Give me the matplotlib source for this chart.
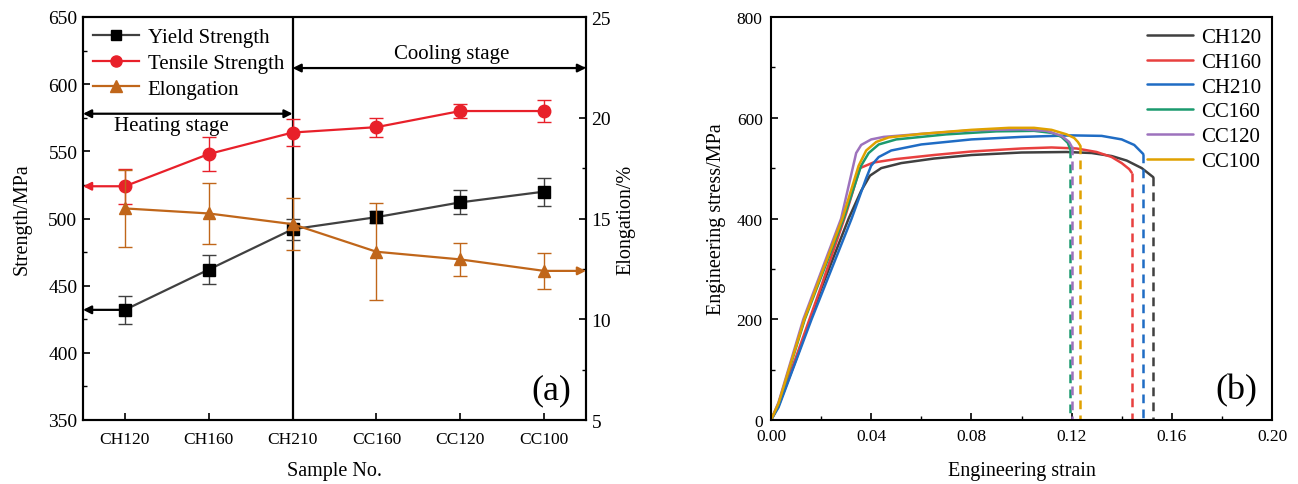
import matplotlib
matplotlib.use("Agg")
import matplotlib.pyplot as plt
from matplotlib.ticker import MultipleLocator
from matplotlib.lines import Line2D

plt.rcParams['font.family'] = ['Liberation Serif', 'DejaVu Serif']
plt.rcParams['mathtext.fontset'] = 'stix'

# ---------------- data: panel (a) ----------------
samples = ["CH120", "CH160", "CH210", "CC160", "CC120", "CC100"]
yield_strength = [432, 462, 492, 501, 512, 520]
yield_err = [10.5, 10.5, 8, 4.5, 9, 10.5]
tensile_strength = [524, 548, 564, 568, 580, 580]
tensile_err = [13, 12.5, 10, 7, 5, 8]
elongation = [15.5, 15.25, 14.72, 13.35, 12.97, 12.4]
elong_err = [1.9, 1.5, 1.3, 2.4, 0.8, 0.9]

# ---------------- data: panel (b) (strain, stress) ----------------
ch120_strain = [0, 0.003, 0.010, 0.020, 0.031, 0.036, 0.0395, 0.044, 0.052, 0.065, 0.080, 0.100, 0.118, 0.128, 0.136, 0.142, 0.148, 0.1526]
ch120_stress = [0, 28, 120, 260, 400, 455, 485, 500, 510, 519, 526, 531, 532, 530, 524, 515, 500, 482]
ch160_strain = [0, 0.003, 0.010, 0.020, 0.030, 0.0355, 0.0408, 0.050, 0.065, 0.080, 0.100, 0.112, 0.122, 0.130, 0.136, 0.140, 0.143, 0.1440]
ch160_stress = [0, 30, 125, 265, 410, 500, 511, 518, 526, 533, 539, 541, 539, 532, 522, 510, 498, 491]
ch210_strain = [0, 0.003, 0.0162, 0.0322, 0.038, 0.040, 0.043, 0.048, 0.060, 0.080, 0.100, 0.120, 0.132, 0.140, 0.145, 0.1486]
ch210_stress = [0, 25, 200, 400, 480, 505, 522, 535, 547, 557, 562, 565, 564, 557, 546, 528]
cc160_strain = [0, 0.003, 0.0135, 0.029, 0.036, 0.039, 0.043, 0.050, 0.070, 0.090, 0.105, 0.112, 0.116, 0.1185, 0.1194]
cc160_stress = [0, 32, 200, 400, 505, 530, 547, 557, 567, 573, 574, 570, 562, 550, 538]
cc120_strain = [0, 0.003, 0.0129, 0.028, 0.034, 0.036, 0.040, 0.045, 0.060, 0.080, 0.100, 0.110, 0.116, 0.119, 0.1200]
cc120_stress = [0, 35, 200, 400, 530, 546, 557, 562, 568, 575, 577, 574, 564, 552, 543]
cc100_strain = [0, 0.003, 0.0133, 0.0285, 0.035, 0.038, 0.042, 0.047, 0.060, 0.080, 0.095, 0.105, 0.112, 0.118, 0.121, 0.1225, 0.1234]
cc100_stress = [0, 33, 200, 400, 505, 535, 552, 561, 568, 576, 580, 580, 576, 567, 560, 552, 545]

curve_names = ["CH120", "CH160", "CH210", "CC160", "CC120", "CC100"]
curve_strains = [ch120_strain, ch160_strain, ch210_strain, cc160_strain, cc120_strain, cc100_strain]
curve_stresses = [ch120_stress, ch160_stress, ch210_stress, cc160_stress, cc120_stress, cc100_stress]
curve_colors = ["#404040", "#e8403f", "#1f6cc4", "#1b9a6e", "#9d72bd", "#e0a100"]

# ---------------- figure ----------------
fig = plt.figure(figsize=(12.98, 4.85), dpi=100)
ax1 = fig.add_axes([83/1298, 1-421/485, (586-83)/1298, (421-18)/485])
ax2 = ax1.twinx()
axb = fig.add_axes([771/1298, 1-421/485, (1272-771)/1298, (421-18)/485])

x = list(range(len(samples)))
c_y, c_t, c_e = "#404040", "#e8202a", "#c0661a"

fs_tick = 12.5
fs_ytick_a = 14
fs_lab = 14.5
fs_leg = 15

ax1.errorbar(x, yield_strength, yerr=yield_err, color=c_y, lw=1.6, marker='s', ms=8,
             mfc='black', mec='black', capsize=5, elinewidth=1.0, ecolor=c_y, label='Yield Strength', zorder=3)
ax1.errorbar(x, tensile_strength, yerr=tensile_err, color=c_t, lw=1.6, marker='o', ms=9,
             mfc=c_t, mec=c_t, capsize=5, elinewidth=1.0, ecolor=c_t, label='Tensile Strength', zorder=3)
ax2.errorbar(x, elongation, yerr=elong_err, color=c_e, lw=1.6, marker='^', ms=9,
             mfc=c_e, mec=c_e, capsize=5, elinewidth=1.0, ecolor=c_e, label='Elongation', zorder=3)

ax1.set_xlim(-0.5, 5.5)
ax1.set_ylim(350, 650)
ax2.set_ylim(5, 25)
ax1.set_xticks(x)
ax1.set_xticklabels(samples)
ax1.yaxis.set_major_locator(MultipleLocator(50))
ax1.yaxis.set_minor_locator(MultipleLocator(25))
ax2.yaxis.set_major_locator(MultipleLocator(5))
ax2.yaxis.set_minor_locator(MultipleLocator(2.5))
for a in (ax1, ax2):
    a.tick_params(direction='in', labelsize=fs_tick, width=1.2, length=5)
    a.tick_params(which='minor', direction='in', width=1.0, length=3)
ax1.tick_params(axis='x', pad=8)
ax1.tick_params(axis='y', pad=4, labelsize=fs_ytick_a)
ax2.tick_params(axis='y', pad=4, labelsize=fs_ytick_a)
for a in (ax1, ax2):
    for s in a.spines.values():
        s.set_linewidth(1.5)

ax1.set_xlabel("Sample No.", fontsize=fs_lab, labelpad=10)
ax1.set_ylabel("Strength/MPa", fontsize=fs_lab, labelpad=12)
ax2.set_ylabel("Elongation/%", fontsize=fs_lab, labelpad=4)

# stage divider and arrows
ax1.axvline(2, color='black', lw=1.6, zorder=2)
ax1.annotate('', xy=(-0.5, 578), xytext=(2, 578),
             arrowprops=dict(arrowstyle='<|-|>', color='black', lw=1.6, mutation_scale=12, shrinkA=0, shrinkB=0))
ax1.text(0.55, 569, "Heating stage", fontsize=fs_leg, ha='center', va='center')
ax1.annotate('', xy=(2, 612), xytext=(5.5, 612),
             arrowprops=dict(arrowstyle='<|-|>', color='black', lw=1.6, mutation_scale=12, shrinkA=0, shrinkB=0))
ax1.text(3.9, 623, "Cooling stage", fontsize=fs_leg, ha='center', va='center')

# axis pointing arrows
ax1.annotate('', xy=(-0.5, yield_strength[0]), xytext=(0, yield_strength[0]),
             arrowprops=dict(arrowstyle='-|>', color='black', lw=1.6, mutation_scale=12, shrinkA=0, shrinkB=0))
ax1.annotate('', xy=(-0.5, tensile_strength[0]), xytext=(0, tensile_strength[0]),
             arrowprops=dict(arrowstyle='-|>', color=c_t, lw=1.6, mutation_scale=12, shrinkA=0, shrinkB=0))
ax2.annotate('', xy=(5.5, elongation[-1]), xytext=(5, elongation[-1]),
             arrowprops=dict(arrowstyle='-|>', color=c_e, lw=1.6, mutation_scale=12, shrinkA=0, shrinkB=0))

ax1.text(0.97, 0.035, "(a)", transform=ax1.transAxes, fontsize=26, ha='right', va='bottom')

handles = [Line2D([], [], color=c_y, lw=1.6, marker='s', ms=7, mfc='black', mec='black'),
           Line2D([], [], color=c_t, lw=1.6, marker='o', ms=8, mfc=c_t, mec=c_t),
           Line2D([], [], color=c_e, lw=1.6, marker='^', ms=8, mfc=c_e, mec=c_e)]
ax1.legend(handles, ["Yield Strength", "Tensile Strength", "Elongation"], loc='upper left',
           frameon=False, fontsize=fs_leg, handlelength=2.2, labelspacing=0.3,
           borderaxespad=0.1, handletextpad=0.4, bbox_to_anchor=(0.0, 1.0))

# ---------------- panel (b) ----------------
for name, sx, sy, col in zip(curve_names, curve_strains, curve_stresses, curve_colors):
    axb.plot(sx, sy, color=col, lw=1.8, label=name, solid_capstyle='round')
    axb.plot([sx[-1], sx[-1]], [sy[-1], 0], color=col, lw=1.8, dashes=(3.5, 2.5))

axb.set_xlim(0, 0.20)
axb.set_ylim(0, 800)
axb.xaxis.set_major_locator(MultipleLocator(0.04))
axb.xaxis.set_minor_locator(MultipleLocator(0.02))
axb.yaxis.set_major_locator(MultipleLocator(200))
axb.yaxis.set_minor_locator(MultipleLocator(100))
axb.xaxis.set_major_formatter(matplotlib.ticker.FormatStrFormatter('%.2f'))
axb.tick_params(direction='in', labelsize=fs_tick, width=1.2, length=5, pad=6)
axb.tick_params(which='minor', direction='in', width=1.0, length=3)
for s in axb.spines.values():
    s.set_linewidth(1.5)
axb.set_xlabel("Engineering strain", fontsize=fs_lab, labelpad=12)
axb.set_ylabel("Engineering stress/MPa", fontsize=fs_lab, labelpad=8)
axb.text(0.97, 0.035, "(b)", transform=axb.transAxes, fontsize=26, ha='right', va='bottom')
axb.legend(loc='upper right', frameon=False, fontsize=fs_leg, handlelength=2.2,
           labelspacing=0.25, borderaxespad=0.1, handletextpad=0.4, bbox_to_anchor=(1.0, 1.0))

fig.savefig("out.png", dpi=100)
